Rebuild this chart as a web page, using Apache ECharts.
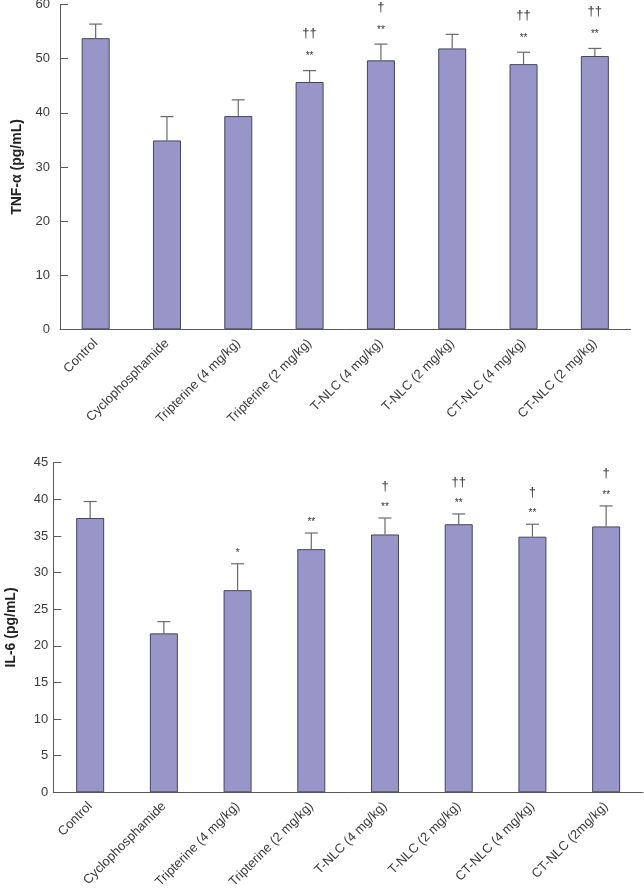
<!DOCTYPE html>
<html>
<head>
<meta charset="utf-8">
<script src="https://cdn.jsdelivr.net/npm/echarts@6/dist/echarts.min.js"></script>
<style>
html,body{margin:0;padding:0;background:#fff;}
#chart{width:644px;height:892px;}
</style>
</head>
<body>
<div id="chart"></div>
<script>
const categoriesTop = ['Control', 'Cyclophosphamide', 'Tripterine (4 mg/kg)', 'Tripterine (2 mg/kg)', 'T-NLC (4 mg/kg)', 'T-NLC (2 mg/kg)', 'CT-NLC (4 mg/kg)', 'CT-NLC (2 mg/kg)'];
const categoriesBottom = ['Control', 'Cyclophosphamide', 'Tripterine (4 mg/kg)', 'Tripterine (2 mg/kg)', 'T-NLC (4 mg/kg)', 'T-NLC (2 mg/kg)', 'CT-NLC (4 mg/kg)', 'CT-NLC (2mg/kg)'];

const tnfMean = [53.8, 34.9, 39.4, 45.7, 49.7, 51.9, 49.0, 50.5];
const tnfSD   = [2.6, 4.4, 3.0, 2.1, 3.0, 2.6, 2.2, 1.4];
const tnfSig  = ['', '', '', '**', '**', '', '**', '**'];
const tnfDag  = ['', '', '', '\u2020\u2020', '\u2020', '', '\u2020\u2020', '\u2020\u2020'];

const il6Mean = [37.45, 21.7, 27.6, 33.2, 35.2, 36.6, 34.9, 36.3];
const il6SD   = [2.25, 1.6, 3.6, 2.2, 2.25, 1.4, 1.7, 2.8];
const il6Sig  = ['', '', '*', '**', '**', '**', '**', '**'];
const il6Dag  = ['', '', '', '', '\u2020', '\u2020\u2020', '\u2020', '\u2020'];

const tnfTicks = {min: 0, max: 60, interval: 10};
const il6Ticks = {min: 0, max: 45, interval: 5};

const FONT = '"Liberation Sans", Arial, sans-serif';
const AXIS_COLOR = '#5a5a5a';
const BAR_COLOR = '#9896c8';
const BAR_BORDER = '#45455e';
const ERR_COLOR = '#6a6a6a';

function makeErrRender(sig, dag, sigGap, dagGap) {
  return function (params, api) {
    const idx = api.value(0);
    const m = api.value(1);
    const sd = api.value(2);
    const p0 = api.coord([idx, m]);
    const p1 = api.coord([idx, m + sd]);
    const cap = 6.5;
    const children = [
      {type: 'line', shape: {x1: p0[0], y1: p0[1], x2: p1[0], y2: p1[1]}, style: {stroke: ERR_COLOR, lineWidth: 1.2}},
      {type: 'line', shape: {x1: p1[0] - cap, y1: p1[1], x2: p1[0] + cap, y2: p1[1]}, style: {stroke: ERR_COLOR, lineWidth: 1.2}}
    ];
    if (sig[idx]) {
      children.push({type: 'text', x: p1[0], y: p1[1] - sigGap, style: {text: sig[idx], fill: '#333', font: '10px ' + FONT, align: 'center', verticalAlign: 'middle'}});
    }
    if (dag[idx]) {
      children.push({type: 'text', x: p1[0], y: p1[1] - dagGap, style: {text: dag[idx], fill: '#333', font: '13px ' + FONT, align: 'center', verticalAlign: 'middle'}});
    }
    return {type: 'group', children: children};
  };
}

function xAxisCfg(cats, gridIndex) {
  return {
    type: 'category', gridIndex: gridIndex, data: cats,
    axisLine: {lineStyle: {color: AXIS_COLOR, width: 1}},
    axisTick: {inside: true, length: 7, lineStyle: {color: AXIS_COLOR}},
    axisLabel: {interval: 0, rotate: 45, fontSize: 13, color: '#3a3a3a', fontFamily: FONT, margin: 12},
    splitLine: {show: false}
  };
}
function yAxisCfg(name, ticks, gridIndex, nameGap, labelMargin) {
  return {
    type: 'value', gridIndex: gridIndex, min: ticks.min, max: ticks.max, interval: ticks.interval,
    name: name, nameLocation: 'middle', nameGap: nameGap,
    nameTextStyle: {fontSize: 14, fontWeight: 'bold', color: '#222', fontFamily: FONT},
    axisLine: {show: true, lineStyle: {color: AXIS_COLOR, width: 1}},
    axisTick: {show: true, inside: true, length: 8, lineStyle: {color: AXIS_COLOR}},
    axisLabel: {fontSize: 13, color: '#3a3a3a', fontFamily: FONT, margin: labelMargin},
    splitLine: {show: false}
  };
}

const chart = echarts.init(document.getElementById('chart'), null, {renderer: 'canvas'});
chart.setOption({
  backgroundColor: '#ffffff',
  animation: false,
  grid: [
    {left: 60, right: 13.5, top: 4.6, bottom: 562.7, containLabel: false, outerBoundsMode: 'none'},
    {left: 53.3, right: 1, top: 462.7, bottom: 99.7, containLabel: false, outerBoundsMode: 'none'}
  ],
  xAxis: [xAxisCfg(categoriesTop, 0), xAxisCfg(categoriesBottom, 1)],
  yAxis: [yAxisCfg('TNF-\u03b1 (pg/mL)', tnfTicks, 0, 30, 10), yAxisCfg('IL-6 (pg/mL)', il6Ticks, 1, 35, 5)],
  series: [
    {type: 'bar', xAxisIndex: 0, yAxisIndex: 0, data: tnfMean, barWidth: 28,
     itemStyle: {color: BAR_COLOR, borderColor: BAR_BORDER, borderWidth: 1}},
    {type: 'custom', xAxisIndex: 0, yAxisIndex: 0, z: 5,
     data: tnfMean.map((m, i) => [i, m, tnfSD[i]]),
     renderItem: makeErrRender(tnfSig, tnfDag, 14, 37)},
    {type: 'bar', xAxisIndex: 1, yAxisIndex: 1, data: il6Mean, barWidth: 28,
     itemStyle: {color: BAR_COLOR, borderColor: BAR_BORDER, borderWidth: 1}},
    {type: 'custom', xAxisIndex: 1, yAxisIndex: 1, z: 5,
     data: il6Mean.map((m, i) => [i, m, il6SD[i]]),
     renderItem: makeErrRender(il6Sig, il6Dag, 11, 32)}
  ]
});
</script>
</body>
</html>
